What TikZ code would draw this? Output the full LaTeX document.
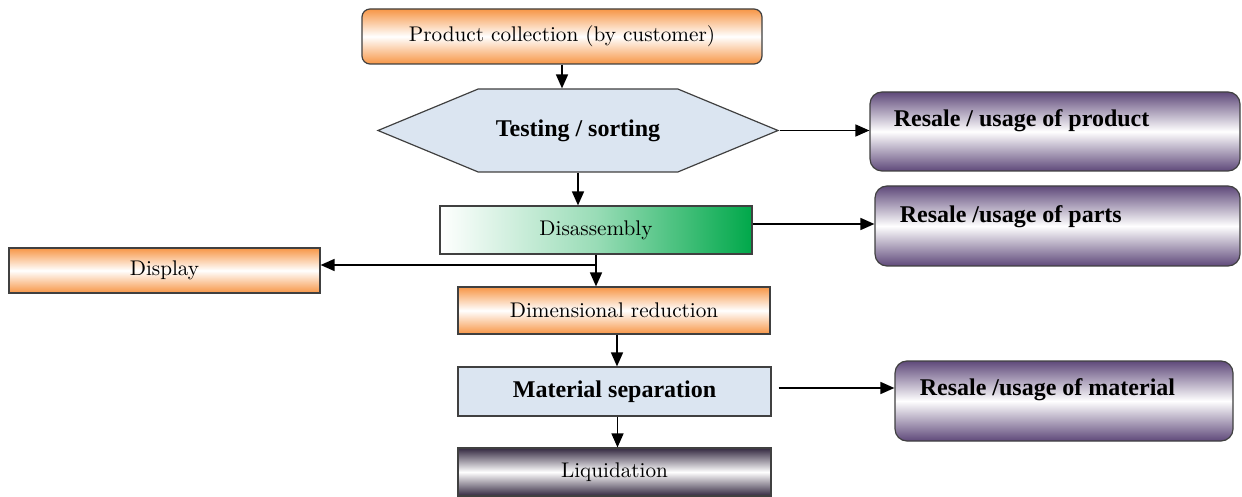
\documentclass[tikz,border=0pt]{standalone}
\usepackage{fontspec}
\newfontfamily\boldserif{Liberation Serif}
\usetikzlibrary{calc,positioning,arrows.meta,shapes.symbols}
\definecolor{orangeC}{HTML}{F79646}
\definecolor{purpleC}{HTML}{5F497A}
\definecolor{darkC}{HTML}{332840}
\definecolor{paleblue}{HTML}{DBE5F1}
\definecolor{greenC}{HTML}{00A84A}
\definecolor{edgeC}{HTML}{404040}

\begin{document}
\begin{tikzpicture}[x=0.5pt,y=-0.5pt,
  box/.style={draw=edgeC,line width=0.6pt,inner sep=2pt,font=\fontsize{10.6}{12}\selectfont},
  orangebox/.style={box,top color=orangeC,bottom color=orangeC,middle color=white},
  purplebox/.style={box,rounded corners=6pt,top color=purpleC,bottom color=purpleC,middle color=white},
  bluebox/.style={box,fill=paleblue,font=\boldserif\bfseries\large},
  flow/.style={line width=0.8pt,-{Triangle[length=7pt,width=6pt]}}
]
\useasboundingbox (0,0) rectangle (1242,497);

\node[orangebox,rounded corners=4pt,minimum width=200pt,minimum height=27.5pt] (collect) at (562,36.5) {Product collection (by customer)};
\node[draw=edgeC,line width=0.6pt,fill=paleblue,shape=signal,signal to=west and east,signal pointer angle=45,
  minimum width=200pt,minimum height=41.5pt,font=\boldserif\bfseries\large] (testing) at (578,130.5) {Testing / sorting};
\node[purplebox,minimum width=185pt,minimum height=39.5pt,
  label={[anchor=west,inner sep=0pt,xshift=12pt,yshift=5.5pt,font=\boldserif\bfseries\large]west:Resale / usage of product}] (rproduct) at (1055,131.5) {};
\node[box,minimum width=156pt,minimum height=24pt,left color=white,right color=greenC,middle color=greenC!40!white] (disasm) at (596,230) {Disassembly};
\node[purplebox,minimum width=182.5pt,minimum height=40pt,
  label={[anchor=west,inner sep=0pt,xshift=12.5pt,yshift=4.5pt,font=\boldserif\bfseries\large]west:Resale /usage of parts}] (rparts) at (1057.5,226) {};
\node[orangebox,minimum width=155.5pt,minimum height=22.5pt] (display) at (164.5,270.5) {Display};
\node[orangebox,minimum width=156pt,minimum height=23.5pt] (dimred) at (614,310.5) {Dimensional reduction};
\node[bluebox,minimum width=156.5pt,minimum height=24.5pt] (matsep) at (614.5,391.5) {Material separation};
\node[purplebox,minimum width=169pt,minimum height=40pt,
  label={[anchor=west,inner sep=0pt,xshift=12.5pt,yshift=5.5pt,font=\boldserif\bfseries\large]west:Resale /usage of material}] (rmaterial) at (1064,401) {};
\node[box,minimum width=156.5pt,minimum height=24pt,top color=darkC,bottom color=darkC,middle color=white] (liquid) at (614.5,472) {Liquidation};

\coordinate (split) at (596,265);

\draw[flow] (collect) -- (collect |- testing.north);
\draw[flow] (testing.east) -- (testing.east -| rproduct.west);
\draw[flow] (testing.south) -- (testing.south |- disasm.north);
\draw[flow] ($(disasm.east)+(0,-6)$) -- ($(disasm.east -| rparts.west)+(0,-6)$);
\draw[flow] (disasm.south) -- (disasm.south |- dimred.north);
\draw[flow] (split) -- (split -| display.east);
\draw[flow] ($(dimred.south)+(3,0)$) -- ($(dimred.south |- matsep.north)+(3,0)$);
\draw[flow] ($(matsep.south)+(3,0)$) -- ($(matsep.south |- liquid.north)+(3,0)$);
\draw[flow] ($(matsep.east)+(7,-3.5)$) -- ($(matsep.east -| rmaterial.west)+(0,-3.5)$);
\end{tikzpicture}
\end{document}
